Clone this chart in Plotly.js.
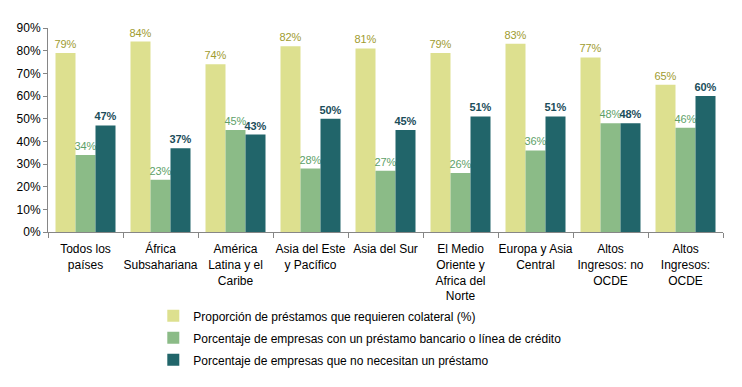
<!DOCTYPE html>
<html>
<head>
<meta charset="utf-8">
<script src="https://cdn.plot.ly/plotly-3.0.1.min.js"></script>
<style>html,body{margin:0;padding:0;background:#fff;}#chart{width:742px;height:387px;}</style>
</head>
<body>
<div id="chart"></div>
<script>
const categories = [
  "Todos los<br>países",
  "África<br>Subsahariana",
  "América<br>Latina y el<br>Caribe",
  "Asia del Este<br>y Pacífico",
  "Asia del Sur",
  "El Medio<br>Oriente y<br>Africa del<br>Norte",
  "Europa y Asia<br>Central",
  "Altos<br>Ingresos: no<br>OCDE",
  "Altos<br>Ingresos:<br>OCDE"
];
const seriesNames = [
  "Proporción de préstamos que requieren colateral (%)",
  "Porcentaje de empresas con un préstamo bancario o línea de crédito",
  "Porcentaje de empresas que no necesitan un préstamo"
];
const colateral = [0.79, 0.84, 0.74, 0.82, 0.81, 0.79, 0.83, 0.77, 0.65];
const conPrestamo = [0.34, 0.23, 0.45, 0.28, 0.27, 0.26, 0.36, 0.48, 0.46];
const noNecesitan = [0.47, 0.37, 0.43, 0.50, 0.45, 0.51, 0.51, 0.48, 0.60];

const fontFam = "'Liberation Sans', Arial, sans-serif";
const barColors = ["#DDE08F", "#8BBB87", "#21656A"];
const labelColors = ["#A09B30", "#5E9F68", "#1B4D5A"];
const vals = [colateral, conPrestamo, noNecesitan];

const traces = vals.map((v, i) => ({
  type: "bar",
  name: seriesNames[i],
  x: categories,
  y: v,
  marker: {color: barColors[i]},
  text: v.map(d => Math.round(d * 100) + "%"),
  textposition: "outside",
  constraintext: "none",
  cliponaxis: false,
  textfont: {family: fontFam, size: 11, color: labelColors[i], weight: i === 2 ? "bold" : "normal"},
  legendgroup: "g" + i,
  hoverinfo: "none"
}));

const layout = {
  width: 742, height: 387,
  margin: {l: 48, r: 19, t: 28, b: 155},
  barmode: "group",
  bargap: 0.2,
  bargroupgap: 0,
  paper_bgcolor: "#fff",
  plot_bgcolor: "#fff",
  font: {family: fontFam, size: 12, color: "#000"},
  xaxis: {
    type: "category",
    showline: true, linecolor: "#868686", linewidth: 1,
    ticks: "outside", tickson: "boundaries", ticklen: 5, tickcolor: "#868686",
    ticklabelstandoff: 6,
    tickfont: {family: fontFam, size: 12, color: "#000"},
    showgrid: false, zeroline: false, tickangle: 0, automargin: false
  },
  yaxis: {
    range: [0, 0.9], dtick: 0.1, tickformat: ".0%",
    showline: true, linecolor: "#868686", linewidth: 1,
    ticks: "outside", ticklen: 4, tickcolor: "#868686",
    tickfont: {family: fontFam, size: 12, color: "#000"},
    showgrid: false, zeroline: false, automargin: false
  },
  showlegend: true,
  legend: {
    orientation: "v",
    x: 0.156, xanchor: "left", y: -0.34, yanchor: "top",
    font: {family: fontFam, size: 12, color: "#000"},
    traceorder: "grouped", tracegroupgap: 3,
    bgcolor: "rgba(0,0,0,0)"
  }
};

Plotly.newPlot("chart", traces, layout, {displayModeBar: false, staticPlot: true});
</script>
</body>
</html>
